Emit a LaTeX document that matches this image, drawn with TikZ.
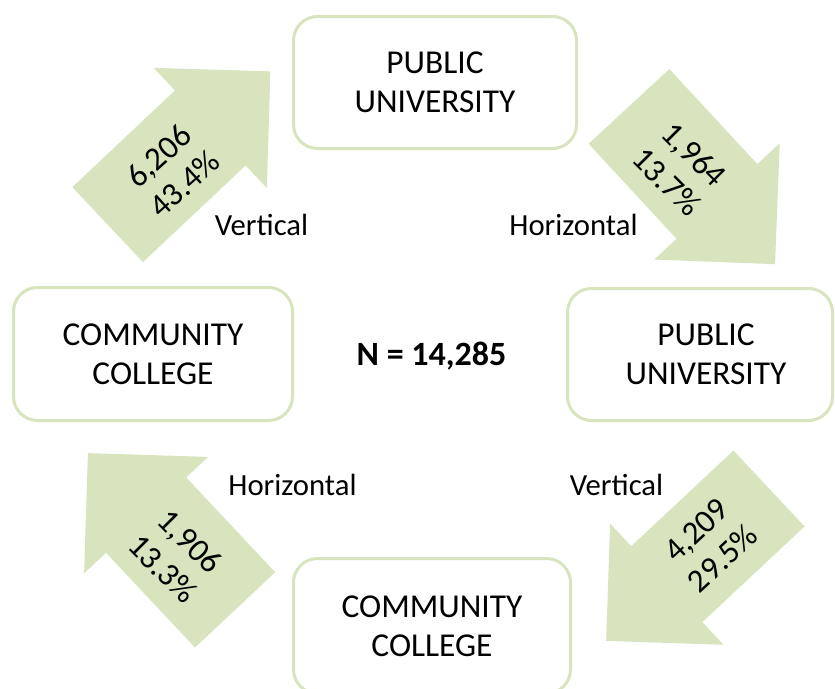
\documentclass[tikz,border=0pt]{standalone}
\usepackage{fontspec}
\setmainfont{Carlito}
\definecolor{gfill}{HTML}{D7E4BD}
\definecolor{gline}{HTML}{D7E4BD}
% #1 cx, #2 cy, #3 angle, #4 shaft width, #5 head width, #6 shaft length
\newcommand{\blkarrow}[6]{%
  \pgfmathsetmacro{\Lh}{(#6+#5/2)/2}%
  \pgfmathsetmacro{\Nx}{-\Lh+#6}%
  \pgfmathsetmacro{\Wh}{#4/2}%
  \pgfmathsetmacro{\Hh}{#5/2}%
  \fill[gfill,shift={(#1,#2)},rotate=#3] (-\Lh pt,\Wh pt) -- (\Nx pt,\Wh pt) -- (\Nx pt,\Hh pt) -- (\Lh pt,0pt) -- (\Nx pt,-\Hh pt) -- (\Nx pt,-\Wh pt) -- (-\Lh pt,-\Wh pt) -- cycle;}
\begin{document}
\begin{tikzpicture}[x=1pt,y=-1pt,
  box/.style={draw=gline,line width=3pt,rounded corners=24pt,fill=white,align=center,
    font=\fontsize{33.4}{39}\selectfont,inner sep=0pt},
  lbl/.style={font=\fontsize{30.7}{36}\selectfont,anchor=base,inner sep=0pt},
  atxt/.style={font=\fontsize{33}{38.5}\selectfont,align=center,inner sep=0pt}]
\fill[white] (0,0) rectangle (835,688);
\useasboundingbox (0,0) rectangle (835,688);
% block arrows
\blkarrow{189}{148}{43.3}{103}{165}{141}
\blkarrow{702}{185.3}{-47.2}{110}{171}{129.5}
\blkarrow{687.6}{564.7}{223.1}{104}{166}{140}
\blkarrow{161.5}{531.5}{133.2}{110}{170}{130}
% arrow texts
\node[atxt,rotate=42] (t1) at (171.5,170) {6,206\\43.4\%};
\node[atxt,rotate=-45] (t2) at (680.5,168) {1,964\\13.7\%};
\node[atxt,rotate=43] (t3) at (709.5,544.5) {4,209\\29.5\%};
\node[atxt,rotate=-45] (t4) at (176.5,555) {1,906\\13.3\%};
% boxes
\node[box,minimum width=283pt,minimum height=132pt] (pu1) at (435,82.5) {PUBLIC\\UNIVERSITY};
\node[box,minimum width=265pt,minimum height=132pt] (pu2) at (700,354.5) {\hspace*{12pt}PUBLIC\\\hspace*{12pt}UNIVERSITY};
\node[box,minimum width=279pt,minimum height=133pt] (cc1) at (153,354) {COMMUNITY\\COLLEGE};
\node[box,minimum width=277pt,minimum height=135pt] (cc2) at (432,626) {COMMUNITY\\COLLEGE};
% labels
\node[lbl] (v1) at (261.5,235) {Vertical};
\node[lbl] (h1) at (573.5,235) {Horizontal};
\node[lbl] (h2) at (292.5,495) {Horizontal};
\node[lbl] (v2) at (616.5,495) {Vertical};
\node[lbl,font=\fontsize{34}{40}\selectfont\bfseries] (n) at (431.5,365) {N = 14,285};
\end{tikzpicture}
\end{document}
